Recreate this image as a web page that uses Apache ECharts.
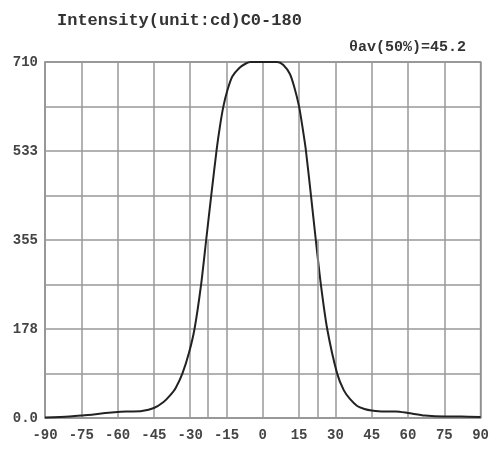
<!DOCTYPE html>
<html>
<head>
<meta charset="utf-8">
<script src="https://cdn.jsdelivr.net/npm/echarts@6/dist/echarts.min.js"></script>
<style>html,body{margin:0;padding:0;background:#fff}#c{width:492px;height:450px}</style>
</head>
<body>
<div id="c"></div>
<script>
const titleText = 'Intensity(unit:cd)C0-180';
const subText = 'θav(50%)=45.2';
const beamAngle = 45.2;
const peakValue = 710;
const xTicks = [-90,-75,-60,-45,-30,-15,0,15,30,45,60,75,90];
const yTickLabels = ['0.0','178','355','533','710'];
const angles = [-90,-80,-75,-70,-65,-60,-55,-50,-45,-41,-38.5,-36,-33.2,-30.5,-28.2,-25.5,-23.4,-21.3,-19.1,-17.6,-16.3,-14.6,-12.6,-9.7,-7,-5,0,6,8.5,11.2,13,15,16.4,17.8,19.9,21.9,24,26.6,30.7,33.5,36,39,42,45,50,55,60,67,75,82,90];
const intensity = [1,3,5,7,10,12,13,14,20,32,44,60,89,130,178,266,355,444,534,585,621,654,681,698,707,710,710,710,704,686,660,621,580,534,444,355,266,178,89,55,38,24,18,15,13,13,10,5,3,3,2];

const font = '"Liberation Mono", "DejaVu Sans Mono", monospace';
const chart = echarts.init(document.getElementById('c'));
const step = peakValue / 8;
const half = beamAngle / 2;
chart.setOption({
  animation: false,
  backgroundColor: '#fff',
  title: [
    {text: titleText, left: 52, top: 7, textStyle: {fontFamily: font, fontWeight: 'bold', fontSize: 17, color: '#333'}},
    {text: subText, right: 21, top: 35, textStyle: {fontFamily: font, fontWeight: 'bold', fontSize: 15, color: '#333'}}
  ],
  grid: {left: 45, right: 10, top: 62, bottom: 32, show: true, borderColor: '#777', borderWidth: 1.5},
  xAxis: {
    type: 'value', min: -90, max: 90, interval: 15,
    axisLine: {show: false}, axisTick: {show: false},
    splitLine: {show: true, lineStyle: {color: '#999', width: 1.5}},
    axisLabel: {fontFamily: font, fontWeight: 'bold', fontSize: 14, color: '#444', margin: 10,
      formatter: v => xTicks.includes(v) ? String(v) : ''}
  },
  yAxis: {
    type: 'value', min: 0, max: peakValue, interval: step,
    axisLine: {show: false}, axisTick: {show: false},
    splitLine: {show: true, lineStyle: {color: '#999', width: 1.5}},
    axisLabel: {fontFamily: font, fontWeight: 'bold', fontSize: 14, color: '#444', margin: 7, padding: [8, 0, 0, 0],
      formatter: v => { const i = Math.round(v / step); return i % 2 === 0 ? yTickLabels[i / 2] : ''; }}
  },
  series: [{
    type: 'line',
    data: angles.map((a, i) => [a, intensity[i]]),
    smooth: 0.25,
    showSymbol: false,
    lineStyle: {color: '#222', width: 2},
    markLine: {
      silent: true, symbol: 'none', label: {show: false},
      lineStyle: {color: '#999', width: 1.5, type: 'solid'},
      data: [
        [{coord: [-half, 0]}, {coord: [-half, peakValue / 2]}],
        [{coord: [half, 0]}, {coord: [half, peakValue / 2]}]
      ]
    }
  }]
});
</script>
</body>
</html>
